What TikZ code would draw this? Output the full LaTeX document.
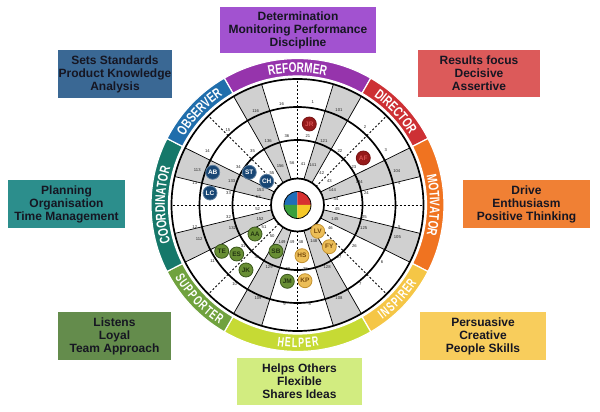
\documentclass[tikz,border=0pt]{standalone}
\usepackage{fontspec}
\setmainfont{Liberation Sans}
\newfontfamily\bandfont[FakeStretch=0.72]{Liberation Sans}
\newfontfamily\bandfontb[FakeStretch=0.66]{Liberation Sans}
\usetikzlibrary{decorations.text}
\newcommand\bandlbl{\bandfont\bfseries\fontsize{14}{14}\selectfont}
\newcommand\bandlblb{\bandfontb\bfseries\fontsize{13.5}{14}\selectfont\kern1.2pt}
% bands
\definecolor{cRef}{RGB}{150,52,172}
\definecolor{cDir}{RGB}{205,48,52}
\definecolor{cMot}{RGB}{240,115,32}
\definecolor{cIns}{RGB}{245,198,70}
\definecolor{cHel}{RGB}{198,218,52}
\definecolor{cSup}{RGB}{112,162,62}
\definecolor{cCoo}{RGB}{22,120,106}
\definecolor{cObs}{RGB}{32,110,172}
% boxes
\definecolor{bRef}{RGB}{162,82,208}
\definecolor{bObs}{RGB}{58,104,148}
\definecolor{bDir}{RGB}{220,90,90}
\definecolor{bCoo}{RGB}{44,142,140}
\definecolor{bMot}{RGB}{240,128,52}
\definecolor{bSup}{RGB}{100,140,76}
\definecolor{bIns}{RGB}{248,205,92}
\definecolor{bHel}{RGB}{210,236,128}
\definecolor{boxtext}{RGB}{22,22,34}
\definecolor{stripgrey}{RGB}{208,208,208}
% dots
\definecolor{dRed}{RGB}{150,26,26}
\definecolor{dRedT}{RGB}{215,80,80}
\definecolor{dBlue}{RGB}{24,70,116}
\definecolor{dGreen}{RGB}{104,142,52}
\definecolor{dGreenL}{RGB}{58,88,28}
\definecolor{dYel}{RGB}{236,190,88}
\definecolor{dYelL}{RGB}{196,146,48}
\definecolor{dYelT}{RGB}{120,74,12}
% quad
\definecolor{qBlue}{RGB}{30,110,185}
\definecolor{qRed}{RGB}{215,48,48}
\definecolor{qGreen}{RGB}{58,160,62}
\definecolor{qYel}{RGB}{245,200,40}
\begin{document}
\begin{tikzpicture}[x=1pt,y=1pt,
  box/.style={inner sep=0pt, align=center, text=boxtext,
    font=\bfseries\fontsize{12}{13}\selectfont},
  ringline/.style={line width=1.7pt, draw=black},
  stripline/.style={line width=0.7pt, draw=black},
  dashline/.style={line width=0.8pt, draw=black, dash pattern=on 2pt off 2pt},
  numlbl/.style={inner sep=0pt, font=\fontsize{4.2}{4.5}\selectfont, text=black!85},
  dotbase/.style={circle, minimum size=14pt, inner sep=0pt, line width=0.8pt,
    font=\bfseries\fontsize{6.5}{6.5}\selectfont},
  dotred/.style={dotbase, fill=dRed, draw=dRed!80!black, text=dRedT},
  dotblue/.style={dotbase, fill=dBlue, draw=dBlue!70!white, text=white},
  dotgreen/.style={dotbase, fill=dGreen, draw=dGreenL, text=dGreenL!60!black},
  dotyel/.style={dotbase, fill=dYel, draw=dYelL, text=dYelT},
  bandseg/.style={draw=white, line width=1.2pt}
]
\useasboundingbox (-297.5,-207) rectangle (302.5,205);

% ---------- boxes ----------
\node[box, fill=bRef, minimum width=156pt, minimum height=46pt] (boxRef) at (0.5,175) {Determination\\Monitoring Performance\\Discipline};
\node[box, fill=bObs, minimum width=114pt, minimum height=48pt] (boxObs) at (-182.5,131) {Sets Standards\\Product Knowledge\\Analysis};
\node[box, fill=bDir, minimum width=122pt, minimum height=47pt] (boxDir) at (181.5,131.5) {Results focus\\Decisive\\Assertive};
\node[box, fill=bCoo, minimum width=117pt, minimum height=48pt] (boxCoo) at (-231,1) {Planning\\Organisation\\Time Management};
\node[box, fill=bMot, minimum width=127pt, minimum height=48pt] (boxMot) at (229,1) {Drive\\Enthusiasm\\Positive Thinking};
\node[box, fill=bSup, minimum width=113pt, minimum height=48pt] (boxSup) at (-183,-131) {Listens\\Loyal\\Team Approach};
\node[box, fill=bIns, minimum width=126pt, minimum height=48pt] (boxIns) at (185.5,-131) {Persuasive\\Creative\\People Skills};
\node[box, fill=bHel, minimum width=125pt, minimum height=47pt] (boxHel) at (2,-176.5) {Helps Others\\Flexible\\Shares Ideas};

% ---------- coloured outer band ----------
\foreach \sa/\ea/\col in {60/120/cRef, 27/60/cDir, -27/27/cMot, -60/-27/cIns,
    -120/-60/cHel, -153/-120/cSup, 153/207/cCoo, 120/153/cObs}{
  \filldraw[bandseg, fill=\col] (\sa:129) arc[start angle=\sa, end angle=\ea, radius=129]
     -- (\ea:146.5) arc[start angle=\ea, end angle=\sa, radius=146.5] -- cycle;
}
% band labels (top style: clockwise, bottom style: counter-clockwise)
\path[decorate, decoration={text along path, text color=white, text align=center,
  text={|\bandlbl|REFORMER}}] (120:132.5) arc[start angle=120, end angle=60, radius=132.5];
\path[decorate, decoration={text along path, text color=white, text align=center,
  text={|\bandlbl|DIRECTOR}}] (60:132.5) arc[start angle=60, end angle=27, radius=132.5];
\path[decorate, decoration={text along path, text color=white, text align=center,
  text={|\bandlbl|MOTIVATOR}}] (27:132.5) arc[start angle=27, end angle=-27, radius=132.5];
\path[decorate, decoration={text along path, text color=white, text align=center,
  text={|\bandlbl|OBSERVER}}] (153:132.5) arc[start angle=153, end angle=120, radius=132.5];
\path[decorate, decoration={text along path, text color=white, text align=center,
  text={|\bandlbl|COORDINATOR}}] (207:132.5) arc[start angle=207, end angle=153, radius=132.5];
\path[decorate, decoration={text along path, text color=white, text align=center,
  text={|\bandlblb|INSPIRER}}] (-60:142.5) arc[start angle=-60, end angle=-27, radius=142.5];
\path[decorate, decoration={text along path, text color=white, text align=center,
  text={|\bandlblb|HELPER}}] (-120:142.5) arc[start angle=-120, end angle=-60, radius=142.5];
\path[decorate, decoration={text along path, text color=white, text align=center,
  text={|\bandlblb|SUPPORTER}}] (-153:142.5) arc[start angle=-153, end angle=-120, radius=142.5];

% ---------- wheel ----------
\fill[white] (0,0) circle (126);
\begin{scope}
  \clip (0,0) circle (126);
  \foreach \a in {20,66.5,113.5,160,-20,-66.5,-113.5,-160}{
    \fill[stripgrey, rotate=\a] (15,-3.15) -- (140,-16.9) -- (140,16.9) -- (15,3.15) -- cycle;
    \draw[stripline, rotate=\a] (15,-3.15) -- (140,-16.9) (15,3.15) -- (140,16.9);
  }
  \foreach \a in {0,45,...,315}{
    \draw[dashline] (\a:26) -- (\a:126);
  }
\end{scope}
\draw[ringline] (0,0) circle (65);
\draw[ringline] (0,0) circle (98);
\draw[ringline] (0,0) circle (126);
\filldraw[fill=white, ringline] (0,0) circle (26.5);

% centre quadrants
\fill[qBlue] (0,0) -- (90:13.5) arc[start angle=90, end angle=180, radius=13.5] -- cycle;
\fill[qRed] (0,0) -- (0:13.5) arc[start angle=0, end angle=90, radius=13.5] -- cycle;
\fill[qGreen] (0,0) -- (180:13.5) arc[start angle=180, end angle=270, radius=13.5] -- cycle;
\fill[qYel] (0,0) -- (270:13.5) arc[start angle=270, end angle=360, radius=13.5] -- cycle;
\draw[line width=0.8pt] (0,0) circle (13.5);

% ---------- small numbers ----------
\foreach \a/\r/\t [count=\k] in {
  81.5/104/1, 49/103/2, 32/104/3, 12/104/4, -12/104/5, -34/102/6, -51.5/101/7, -83/100/8,
  -97.5/100/9, -128.5/101/10, -146.5/102/11, -168/105/12, 168/105/13, 149/105/14, 133/102/15, 99/102/16,
  66.5/104/101, 19/105/104, -18/105/105, -66/102/108, -113/101/109, -161/104/112, 161/106/113, 114/103/116,
  81.5/70/21, 52/69/22, 34/68/23, 10/70/24, -10/68/25, -35.5/70/26, -51.5/67/27, -83/65/28,
  -98.5/65/29, -128/66/30, -143/68/31, -170/70/32, 170/70/33, 147.5/70/34, 130/70/35, 98.7/70/36,
  67.5/69/121, 20.5/66/124, -19/70/125, -64.6/69/128, -114.7/68/129, -160.6/69/132, 160/70/133, 114.7/70/136,
  82/41/41, 52.6/40/42, 37/40/43, 9/39/44, -6/40/45, -34.5/40/46, -84.6/37/48,
  -98.5/37/49, -129.4/40/50, -146.7/40/51, -174/40/52, 168.5/40/53, 128.5/41/55, 97.5/42/56,
  69/43/141, 23.5/38/144, -20.5/40/145, -66/40/148, -112.7/40/149, -159.5/40/152, 158/40/153, 113.6/43/156}{
  \node[numlbl] (num\k) at (\a:\r) {\t};
}

% ---------- people dots ----------
\node[dotred] (JR) at (11.8,81) {JR};
\node[dotred] (AF) at (65.8,47) {AF};
\node[dotblue] (AB) at (-84.8,32.7) {AB};
\node[dotblue] (LC) at (-87.5,12) {LC};
\node[dotblue] (ST) at (-48.2,32.7) {ST};
\node[dotblue] (CH) at (-30.8,23.7) {CH};
\node[dotgreen] (AA) at (-42.5,-29) {AA};
\node[dotgreen] (TE) at (-75.8,-46.3) {TE};
\node[dotgreen] (ES) at (-60.8,-49) {ES};
\node[dotgreen] (JK) at (-51.5,-65) {JK};
\node[dotgreen] (SB) at (-21.5,-46.3) {SB};
\node[dotgreen] (JM) at (-10.2,-76.3) {JM};
\node[dotyel] (LV) at (20.2,-26.3) {LV};
\node[dotyel] (FY) at (31.8,-41.7) {FY};
\node[dotyel] (HS) at (4.5,-50.7) {HS};
\node[dotyel] (KP) at (7.5,-75.7) {KP};
\end{tikzpicture}
\end{document}
